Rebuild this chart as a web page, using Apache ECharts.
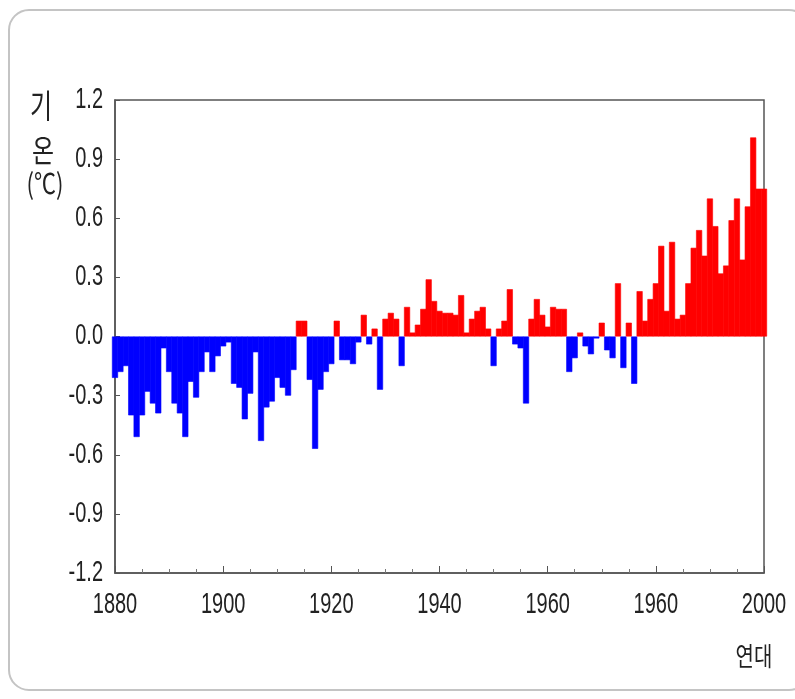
<!DOCTYPE html>
<html>
<head>
<meta charset="utf-8">
<script src="https://cdn.jsdelivr.net/npm/echarts@6/dist/echarts.min.js"></script>
<style>
html,body{margin:0;padding:0;background:#fff;}
#chart{width:795px;height:699px;}
</style>
</head>
<body>
<div id="chart"></div>
<script>
// Years 1880..2000 (one bar per year)
const years = [];
for (let y = 1880; y <= 2000; y++) years.push(String(y));

// Temperature anomaly (°C), 1880..2000
const anomaly1880s = [-0.21, -0.18, -0.15, -0.40, -0.51, -0.40, -0.28, -0.34, -0.39, -0.06];
const anomaly1890s = [-0.18, -0.34, -0.39, -0.51, -0.23, -0.31, -0.18, -0.08, -0.18, -0.10];
const anomaly1900s = [-0.05, -0.03, -0.24, -0.26, -0.42, -0.29, -0.08, -0.53, -0.36, -0.33];
const anomaly1910s = [-0.21, -0.26, -0.30, -0.17, 0.08, 0.08, -0.22, -0.57, -0.27, -0.18];
const anomaly1920s = [-0.14, 0.08, -0.12, -0.12, -0.14, -0.03, 0.11, -0.04, 0.04, -0.27];
const anomaly1930s = [0.09, 0.12, 0.09, -0.15, 0.15, 0.02, 0.06, 0.14, 0.29, 0.18];
const anomaly1940s = [0.13, 0.12, 0.12, 0.11, 0.21, 0.02, 0.09, 0.13, 0.15, 0.04];
const anomaly1950s = [-0.15, 0.04, 0.08, 0.24, -0.04, -0.06, -0.34, 0.09, 0.19, 0.11];
const anomaly1960s = [0.05, 0.15, 0.14, 0.14, -0.18, -0.11, 0.02, -0.05, -0.09, -0.01];
const anomaly1970s = [0.07, -0.07, -0.11, 0.27, -0.16, 0.07, -0.24, 0.23, 0.08, 0.19];
const anomaly1980s = [0.27, 0.46, 0.13, 0.48, 0.09, 0.11, 0.27, 0.45, 0.54, 0.41];
const anomaly1990s = [0.70, 0.56, 0.32, 0.36, 0.59, 0.70, 0.39, 0.66, 1.01, 0.75];
const anomaly2000 = [0.75];

const anomaly = [].concat(anomaly1880s, anomaly1890s, anomaly1900s, anomaly1910s,
  anomaly1920s, anomaly1930s, anomaly1940s, anomaly1950s, anomaly1960s,
  anomaly1970s, anomaly1980s, anomaly1990s, anomaly2000);

// Tick values and labels as printed on the reference
const xTickValues = [1880, 1900, 1920, 1940, 1960, 1980, 2000];
const xTickLabels = ['1880', '1900', '1920', '1940', '1960', '1960', '2000'];
const yTickValues = [1.2, 0.9, 0.6, 0.3, 0.0, -0.3, -0.6, -0.9, -1.2];
const yTickLabels = ['1.2', '0.9', '0.6', '0.3', '0.0', '-0.3', '-0.6', '-0.9', '-1.2'];
const yTitleLines = ['기', '온', '(℃)'];
const xTitle = '연대';

const COLD = '#0000ff';
const WARM = '#ff0000';
const numFont = "'Liberation Sans',Arial,sans-serif";
const krFont = "'Noto Sans CJK KR','Noto Sans',sans-serif";
const textColor = '#222';

const barData = anomaly.map(function (v) {
  const c = v < 0 ? COLD : WARM;
  return {value: v, itemStyle: {color: c, borderColor: c, borderWidth: 0.6}};
});

const chart = echarts.init(document.getElementById('chart'), null, {renderer: 'canvas'});
chart.setOption({
  animation: false,
  backgroundColor: '#fff',
  grid: {
    left: 115, right: 31, top: 100, bottom: 126,
    show: true, borderColor: '#555', borderWidth: 1.5, backgroundColor: 'transparent'
  },
  xAxis: [
    {
      type: 'category', data: years, boundaryGap: false,
      axisLine: {show: false}, axisTick: {show: false}, axisLabel: {show: false},
      splitLine: {show: false}
    },
    {
      type: 'value', min: 1880, max: 2000, interval: 20, position: 'bottom',
      axisLine: {show: true, lineStyle: {color: '#555', width: 1.5}},
      axisTick: {show: true, inside: true, length: 7, lineStyle: {color: '#555'}},
      minorTick: {show: true, splitNumber: 4, length: 4, lineStyle: {color: '#777'}},
      splitLine: {show: false},
      axisLabel: {show: false}
    }
  ],
  yAxis: {
    type: 'value', min: -1.2, max: 1.2, interval: 0.3,
    axisLine: {show: true, lineStyle: {color: '#555', width: 1.5}},
    axisTick: {show: true, inside: true, length: 5, lineStyle: {color: '#555'}},
    splitLine: {show: false},
    axisLabel: {show: false}
  },
  series: [{
    type: 'bar',
    xAxisIndex: 0,
    data: barData,
    barWidth: '112%',
    barGap: '-100%',
    clip: true,
    z: 1
  }]
});

// Tick labels: tall, narrow text placed at the axis ticks through the chart's own scales
const graphics = [
  {type: 'rect', shape: {x: 9, y: 10, width: 800, height: 680, r: 20},
   style: {fill: 'none', stroke: '#c4c4c4', lineWidth: 2}, z: -1, silent: true}
];
const gridBottomY = chart.convertToPixel({yAxisIndex: 0}, -1.2);
const gridLeftX = chart.convertToPixel({xAxisIndex: 1}, 1880);
xTickValues.forEach(function (v, i) {
  const px = chart.convertToPixel({xAxisIndex: 1}, v);
  graphics.push({type: 'text', x: px, y: gridBottomY + 32, scaleY: 1.5,
    style: {text: xTickLabels[i], font: '20px ' + numFont, fill: textColor,
            textAlign: 'center', textVerticalAlign: 'middle'}});
});
yTickValues.forEach(function (v, i) {
  const py = chart.convertToPixel({yAxisIndex: 0}, v);
  graphics.push({type: 'text', x: gridLeftX - 12, y: py, scaleY: 1.45,
    style: {text: yTickLabels[i], font: '20px ' + numFont, fill: textColor,
            textAlign: 'right', textVerticalAlign: 'middle'}});
});
// Axis titles
graphics.push({type: 'text', x: 41, y: 106, scaleY: 1.35, style: {text: yTitleLines[0], font: '24px ' + krFont, fill: textColor, textAlign: 'center', textVerticalAlign: 'middle'}});
graphics.push({type: 'text', x: 43, y: 150, scaleY: 1.3, style: {text: yTitleLines[1], font: '24px ' + krFont, fill: textColor, textAlign: 'center', textVerticalAlign: 'middle'}});
graphics.push({type: 'text', x: 45, y: 183, scaleY: 1.3, style: {text: yTitleLines[2], font: '22px ' + krFont, fill: textColor, textAlign: 'center', textVerticalAlign: 'middle'}});
graphics.push({type: 'text', x: 754, y: 656, scaleY: 1.3, style: {text: xTitle, font: '20px ' + krFont, fill: textColor, textAlign: 'center', textVerticalAlign: 'middle'}});
chart.setOption({graphic: graphics});
</script>
</body>
</html>
